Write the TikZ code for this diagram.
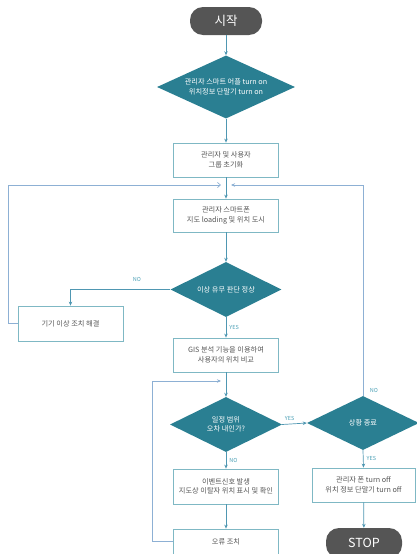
\documentclass[tikz,border=0pt]{standalone}
\usepackage{fontspec}
\setmainfont{Noto Sans CJK KR}
\usetikzlibrary{shapes.geometric,arrows.meta}
\definecolor{teal1}{HTML}{2A7F92}
\definecolor{boxb}{HTML}{7FB8C4}
\definecolor{linec}{HTML}{4F97B2}
\definecolor{loopc}{HTML}{8DB0D4}
\definecolor{txt}{HTML}{555555}
\definecolor{pill}{HTML}{555555}
\definecolor{lab}{HTML}{4A9FB5}
\begin{document}
\begin{tikzpicture}[x=1pt,y=-1pt,
  font=\fontsize{7.2}{9.5}\selectfont,
  procbox/.style={draw=boxb, line width=0.8pt, fill=white, text=txt, minimum width=105pt, minimum height=34pt, align=center, inner sep=1pt},
  dec/.style={diamond, fill=teal1, text=white, align=center, inner sep=0pt},
  term/.style={rectangle, rounded corners=13pt, fill=pill, text=white, font=\fontsize{12.5}{14}\selectfont, inner sep=0pt},
  arr/.style={draw=linec, line width=0.7pt, -{Stealth[length=4pt,width=3.5pt]}},
  lp/.style={draw=loopc, line width=0.7pt},
  lbl/.style={text=lab, font=\fontsize{5.5}{7}\selectfont, inner sep=1pt}
]
\useasboundingbox (0,0) rectangle (417,554);
\node[term, minimum width=72pt, minimum height=28pt] (start) at (226,21) {시작};
\node[dec, aspect=2.2, minimum width=138pt, minimum height=63pt] (d1) at (226,87) {관리자 스마트 어플 turn on\\위치정보 단말기 turn on};
\node[procbox] (b1) at (226,160) {관리자 및 사용자\\그룹 초기화};
\node[procbox, minimum height=33pt] (b2) at (226,215.5) {관리자 스마트폰\\지도 loading 및 위치 도시};
\node[dec, aspect=2.02, minimum width=111pt, minimum height=55pt] (d2) at (226,289.5) {이상 유무 판단 정상};
\node[procbox, minimum height=35pt] (fix) at (70.5,323.5) {기기 이상 조치 해결};
\node[procbox] (b3) at (226,355) {GIS 분석 기능을 이용하여\\사용자의 위치 비교};
\node[dec, aspect=2.04, minimum width=112pt, minimum height=55pt] (d3) at (226,424.5) {일정 범위\\오차 내인가?};
\node[procbox, minimum height=35pt] (b4) at (226,486.5) {이벤트신호 발생\\지도상 이탈자 위치 표시 및 확인};
\node[procbox, minimum height=25pt] (b5) at (226,541.5) {오류 조치};
\node[dec, aspect=2.07, minimum width=112pt, minimum height=54pt] (d4) at (363,423) {상황 종료};
\node[procbox, minimum width=103pt] (b6) at (363.5,485) {관리자 폰 turn off\\위치 정보 단말기 turn off};
\node[term, minimum width=76pt, minimum height=30pt] (stop) at (364,543) {STOP};

\coordinate (ml) at (221,185);
\coordinate (mr) at (231,185);
\coordinate (ml2) at (221,381);
\coordinate (cl1) at (8,185);
\coordinate (cl2) at (152,381);

\draw[arr] (start) -- (d1);
\draw[arr] (d1) -- (b1);
\draw[arr] (b1) -- (b2);
\draw[lp, -{Straight Barb[length=3pt,width=5pt]}] (fix.west) -| (cl1) -- (ml);
\draw[lp, -{Stealth[length=4pt,width=3.5pt,fill=linec]}] (d4.north) |- (mr);
\draw[arr] (b2) -- (d2);
\draw[arr] (d2.west) -| (fix.north);
\node[lbl] (nolab1) at (137,279) {NO};
\draw[arr] (d2.south) -- node[lbl, right=2pt] {YES} (b3.north);
\draw[arr] (b3) -- (d3);
\draw[lp, -{Stealth[length=4pt,width=3.5pt,fill=linec]}] (b5.west) -| (cl2) -- (ml2);
\draw[arr] (d3.east) -- node[lbl, above=2pt, pos=0.3] {YES} (d4.west);
\draw[arr] (d3.south) -- node[lbl, right=2pt] {NO} (b4.north);
\draw[arr] (b4) -- (b5);
\node[lbl] (nolab) at (374,390) {NO};
\draw[arr] (d4.south) -- node[lbl, right=2pt] {YES} (b6.north);
\draw[arr] (b6) -- (stop);
\end{tikzpicture}
\end{document}
